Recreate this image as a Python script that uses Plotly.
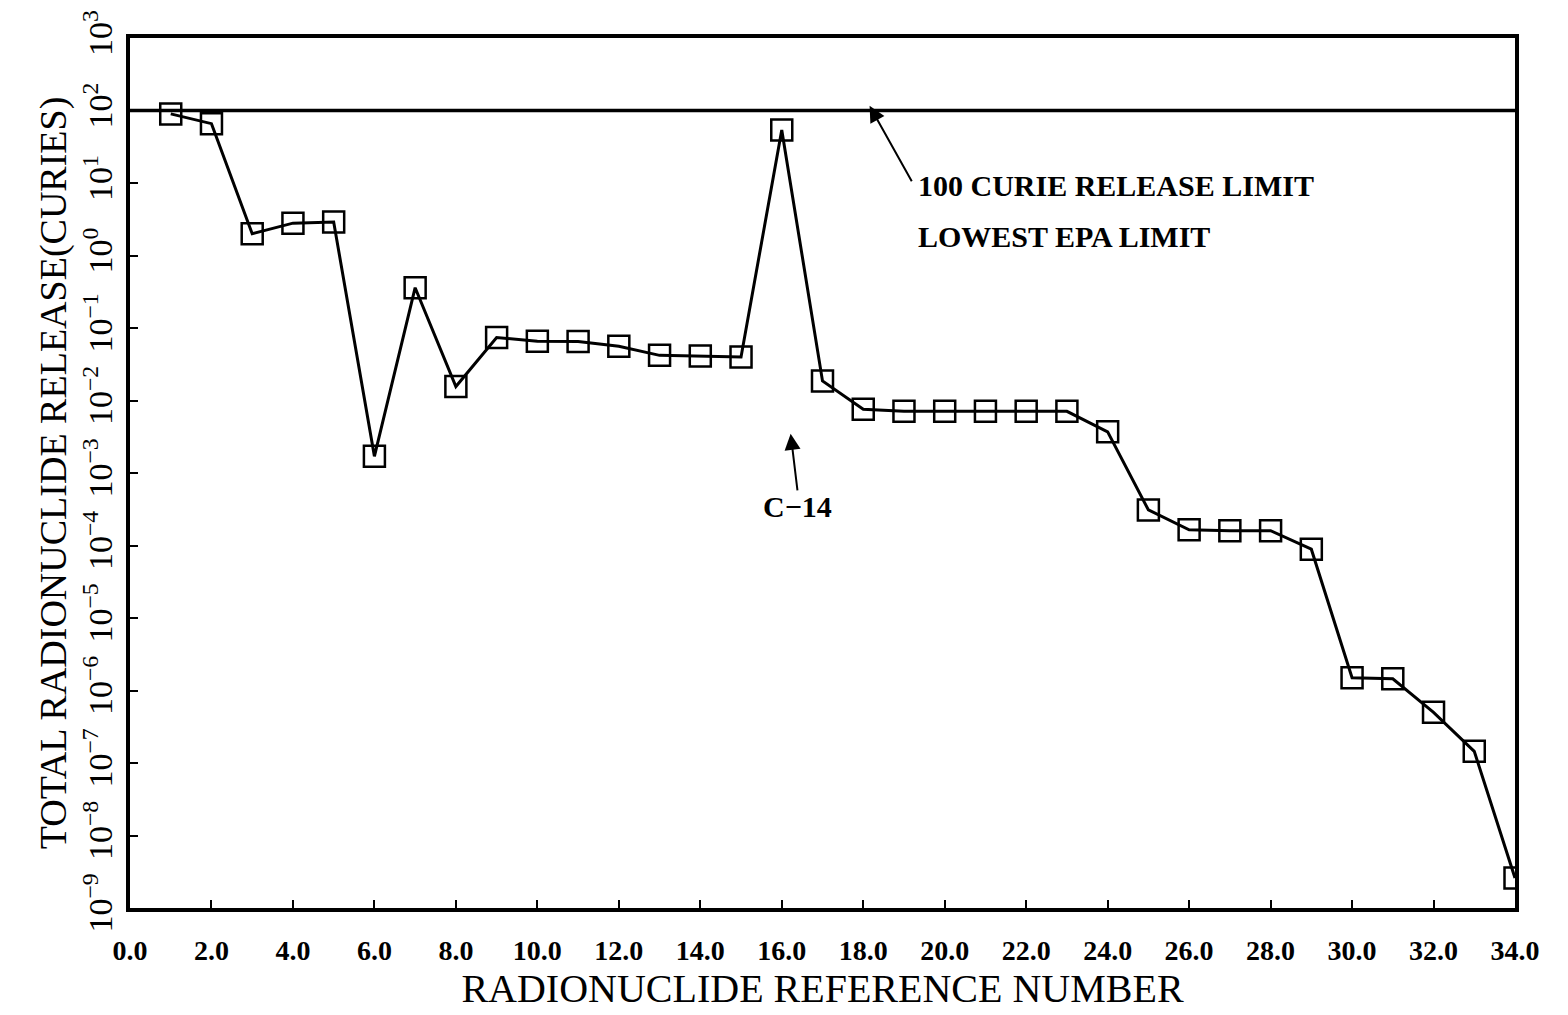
import plotly.graph_objects as go

# Radionuclide reference numbers and total release (curies)
ref_numbers = list(range(1, 35))
release_curies = [
    90, 66, 2.0, 2.8, 2.9, 1.7e-3, 0.36, 0.0156, 0.074, 0.066,
    0.065, 0.056, 0.042, 0.041, 0.040, 54, 0.0186, 7.6e-3, 7.1e-3, 7.1e-3,
    7.1e-3, 7.1e-3, 7.1e-3, 3.7e-3, 3.1e-4, 1.65e-4, 1.6e-4, 1.6e-4, 8.9e-5, 1.5e-6,
    1.45e-6, 5.0e-7, 1.45e-7, 2.6e-9,
]
limit_x = [0, 34]
limit_curies = [100, 100]
x_ticks = [0, 2, 4, 6, 8, 10, 12, 14, 16, 18, 20, 22, 24, 26, 28, 30, 32, 34]
x_tick_labels = ["0.0", "2.0", "4.0", "6.0", "8.0", "10.0", "12.0", "14.0", "16.0",
                 "18.0", "20.0", "22.0", "24.0", "26.0", "28.0", "30.0", "32.0", "34.0"]
y_ticks = [1e-9, 1e-8, 1e-7, 1e-6, 1e-5, 1e-4, 1e-3, 1e-2, 1e-1, 1e0, 1e1, 1e2, 1e3]
y_exponents = ["−9", "−8", "−7", "−6", "−5", "−4", "−3", "−2", "−1", "0", "1", "2", "3"]

SERIF = "Liberation Serif, Times New Roman, serif"

fig = go.Figure()
fig.add_trace(go.Scatter(
    x=limit_x, y=limit_curies, mode="lines",
    line=dict(color="black", width=3.5), showlegend=False, hoverinfo="skip",
))
fig.add_trace(go.Scatter(
    x=ref_numbers, y=release_curies, mode="lines+markers",
    line=dict(color="black", width=3),
    marker=dict(symbol="square-open", size=21, color="black", line=dict(width=2.5, color="black")),
    showlegend=False,
))

fig.update_xaxes(
    range=[0, 34], tickvals=x_ticks, ticktext=["<b>%s</b>" % t for t in x_tick_labels],
    ticks="inside", ticklen=8, tickwidth=2, tickcolor="black",
    showline=True, linewidth=4, linecolor="black", mirror=True,
    showgrid=False, zeroline=False, ticklabelstandoff=14, automargin=False,
    tickfont=dict(family=SERIF, size=28, color="black"),
    title=dict(text="RADIONUCLIDE REFERENCE NUMBER", font=dict(family=SERIF, size=40, color="black"), standoff=10),
)
fig.update_yaxes(
    type="log", range=[-9, 3.001], tickvals=y_ticks,
    ticktext=["10<sup>%s</sup>" % e for e in y_exponents],
    ticks="inside", ticklen=8, tickwidth=2, tickcolor="black",
    showline=True, linewidth=4, linecolor="black", mirror=True,
    showgrid=False, zeroline=False, tickangle=-90, automargin=False,
    tickfont=dict(family=SERIF, size=34, color="black"),
    title=dict(text="TOTAL RADIONUCLIDE RELEASE(CURIES)", font=dict(family=SERIF, size=38, color="black"), standoff=0),
)

ann_font = dict(family=SERIF, size=30, color="black")
fig.add_annotation(xref="paper", yref="paper", x=0.5675, y=0.831, xanchor="left", yanchor="middle",
                   text="<b>100 CURIE RELEASE LIMIT</b>", showarrow=False, font=ann_font)
fig.add_annotation(xref="paper", yref="paper", x=0.5675, y=0.772, xanchor="left", yanchor="middle",
                   text="<b>LOWEST EPA LIMIT</b>", showarrow=False, font=ann_font)
fig.add_annotation(xref="paper", yref="paper", x=0.534, y=0.922, text="", showarrow=True,
                   ax=43, ay=77, arrowhead=2, arrowsize=1.6, arrowwidth=2, arrowcolor="black")
fig.add_annotation(xref="paper", yref="paper", x=0.482, y=0.462, xanchor="center", yanchor="middle",
                   text="<b>C−14</b>", showarrow=False, font=ann_font)
fig.add_annotation(xref="paper", yref="paper", x=0.477, y=0.545, text="", showarrow=True,
                   ax=7, ay=58, arrowhead=2, arrowsize=1.6, arrowwidth=2, arrowcolor="black")

fig.update_layout(
    width=1568, height=1015,
    margin=dict(l=122, r=61, t=30, b=115),
    paper_bgcolor="white", plot_bgcolor="white",
    font=dict(family=SERIF, color="black"),
)
fig.write_html("out.html")
